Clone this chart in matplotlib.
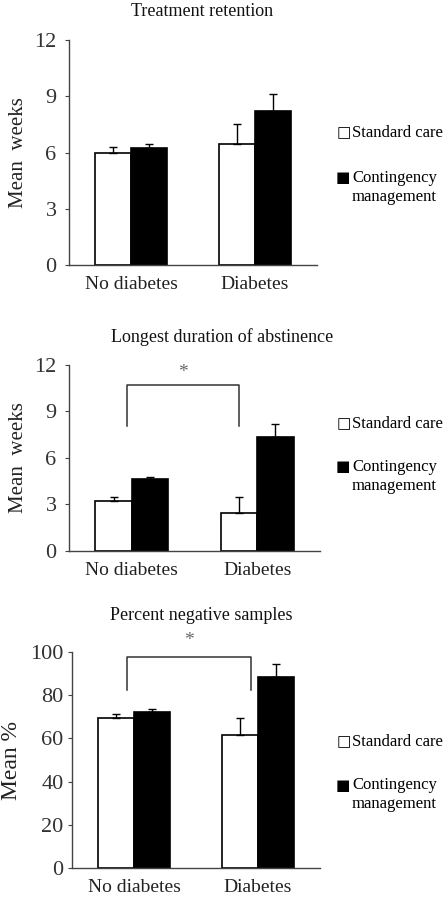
import matplotlib
matplotlib.use("Agg")
import matplotlib.pyplot as plt
import numpy as np

plt.rcParams['font.family'] = ['Liberation Serif', 'DejaVu Serif']

groups = ['No diabetes', 'Diabetes']
series = ['Standard care', 'Contingency management']

retention_std = [6.0, 6.45]
retention_std_err = [0.3, 1.07]
retention_cm = [6.22, 8.23]
retention_cm_err = [0.22, 0.9]

abstinence_std = [3.19, 2.42]
abstinence_std_err = [0.3, 1.05]
abstinence_cm = [4.61, 7.33]
abstinence_cm_err = [0.17, 0.86]

negative_std = [69.2, 61.5]
negative_std_err = [1.9, 7.9]
negative_cm = [72.0, 88.3]
negative_cm_err = [1.5, 6.0]

# layout in pixels of the 445x900 picture
# ylabel_x is the right-hand edge of the rotated y label
panels = [
    dict(title='Treatment retention', title_xy=(202, 11), ylabel='Mean  weeks', ylabel_size=15,
         ylabel_x=28, ylim=12, ticks=[0, 3, 6, 9, 12], tick_pad=6,
         std=retention_std, std_err=retention_std_err, cm=retention_cm, cm_err=retention_cm_err,
         bracket=None,
         rect=[69, 40, 317, 265], legend_y=[133, 178]),
    dict(title='Longest duration of abstinence', title_xy=(222, 337), ylabel='Mean  weeks', ylabel_size=15,
         ylabel_x=28, ylim=12, ticks=[0, 3, 6, 9, 12], tick_pad=6,
         std=abstinence_std, std_err=abstinence_std_err, cm=abstinence_cm, cm_err=abstinence_cm_err,
         bracket=dict(top=10.71, leg=8.06, x0=-0.04, x1=0.855, star=9),
         rect=[69, 365, 320, 550.7], legend_y=[424, 467]),
    dict(title='Percent negative samples', title_xy=(201, 615), ylabel='Mean %', ylabel_size=17,
         ylabel_x=22, ylim=100, ticks=[0, 20, 40, 60, 80, 100], tick_pad=3,
         std=negative_std, std_err=negative_std_err, cm=negative_cm, cm_err=negative_cm_err,
         bracket=dict(top=97.7, leg=82.3, x0=-0.054, x1=0.941, star=12),
         rect=[72, 651.7, 320, 868.3], legend_y=[742, 785]),
]

W, H = 445, 900
fig = plt.figure(figsize=(W / 100, H / 100), dpi=100)

x = np.arange(len(groups))
width = 0.29
axis_col = '#444444'
err_style = dict(ecolor='black', elinewidth=1.0, capsize=3, capthick=1.0)

for p in panels:
    l, t, r, b = p['rect']
    ax = fig.add_axes([l / W, 1 - b / H, (r - l) / W, (b - t) / H])
    ax.bar(x - width / 2, p['std'], width, color='white', edgecolor='black', linewidth=1.2,
           yerr=[[0, 0], p['std_err']], error_kw=err_style)
    ax.bar(x + width / 2, p['cm'], width, color='black', edgecolor='black', linewidth=1.2,
           yerr=[[0, 0], p['cm_err']], error_kw=err_style)
    ax.set_xlim(-0.5, 1.5)
    ax.set_ylim(0, p['ylim'])
    ax.set_yticks(p['ticks'])
    ax.set_xticks(x)
    ax.set_xticklabels(groups, fontsize=14)
    ax.tick_params(axis='x', length=0, pad=8, labelcolor='#222222')
    ax.tick_params(axis='y', length=3, direction='out', labelsize=16, pad=p['tick_pad'],
                   colors=axis_col, labelcolor='#333333')
    for s in ['top', 'right']:
        ax.spines[s].set_visible(False)
    for s in ['left', 'bottom']:
        ax.spines[s].set_color(axis_col)
        ax.spines[s].set_linewidth(1.0)
    ax.set_ylabel(p['ylabel'], fontsize=p['ylabel_size'], color='#222222')
    ax.yaxis.set_label_coords((p['ylabel_x'] - l) / (r - l), 0.5)

    tx, ty = p['title_xy']
    fig.text(tx / W, 1 - ty / H, p['title'], fontsize=13, ha='center', va='center', color='#111111')

    br = p['bracket']
    if br is not None:
        xs = [br['x0'], br['x0'], br['x1'], br['x1']]
        ax.plot(xs, [br['leg'], br['top'], br['top'], br['leg']], color='#333333', linewidth=1.1, clip_on=False)
        ax.annotate('*', xy=((br['x0'] + br['x1']) / 2, br['top']), xytext=(0, br['star']),
                    textcoords='offset points', ha='center', va='center', fontsize=14, color='#666666')

    # legend, drawn by hand so the square sits on the first text line
    y_std, y_cm = p['legend_y']
    fig.text(337 / W, 1 - y_std / H, '\u25a1', fontsize=11, family='DejaVu Sans', va='center', ha='left')
    fig.text(352 / W, 1 - y_std / H, series[0], fontsize=12, va='center', ha='left')
    fig.text(336 / W, 1 - y_cm / H, '\u25a0', fontsize=11, family='DejaVu Sans', va='center', ha='left')
    fig.text(352 / W, 1 - y_cm / H, 'Contingency', fontsize=12, va='center', ha='left')
    fig.text(352 / W, 1 - (y_cm + 19) / H, 'management', fontsize=12, va='center', ha='left')

fig.savefig('out.png', dpi=100, facecolor='white')
